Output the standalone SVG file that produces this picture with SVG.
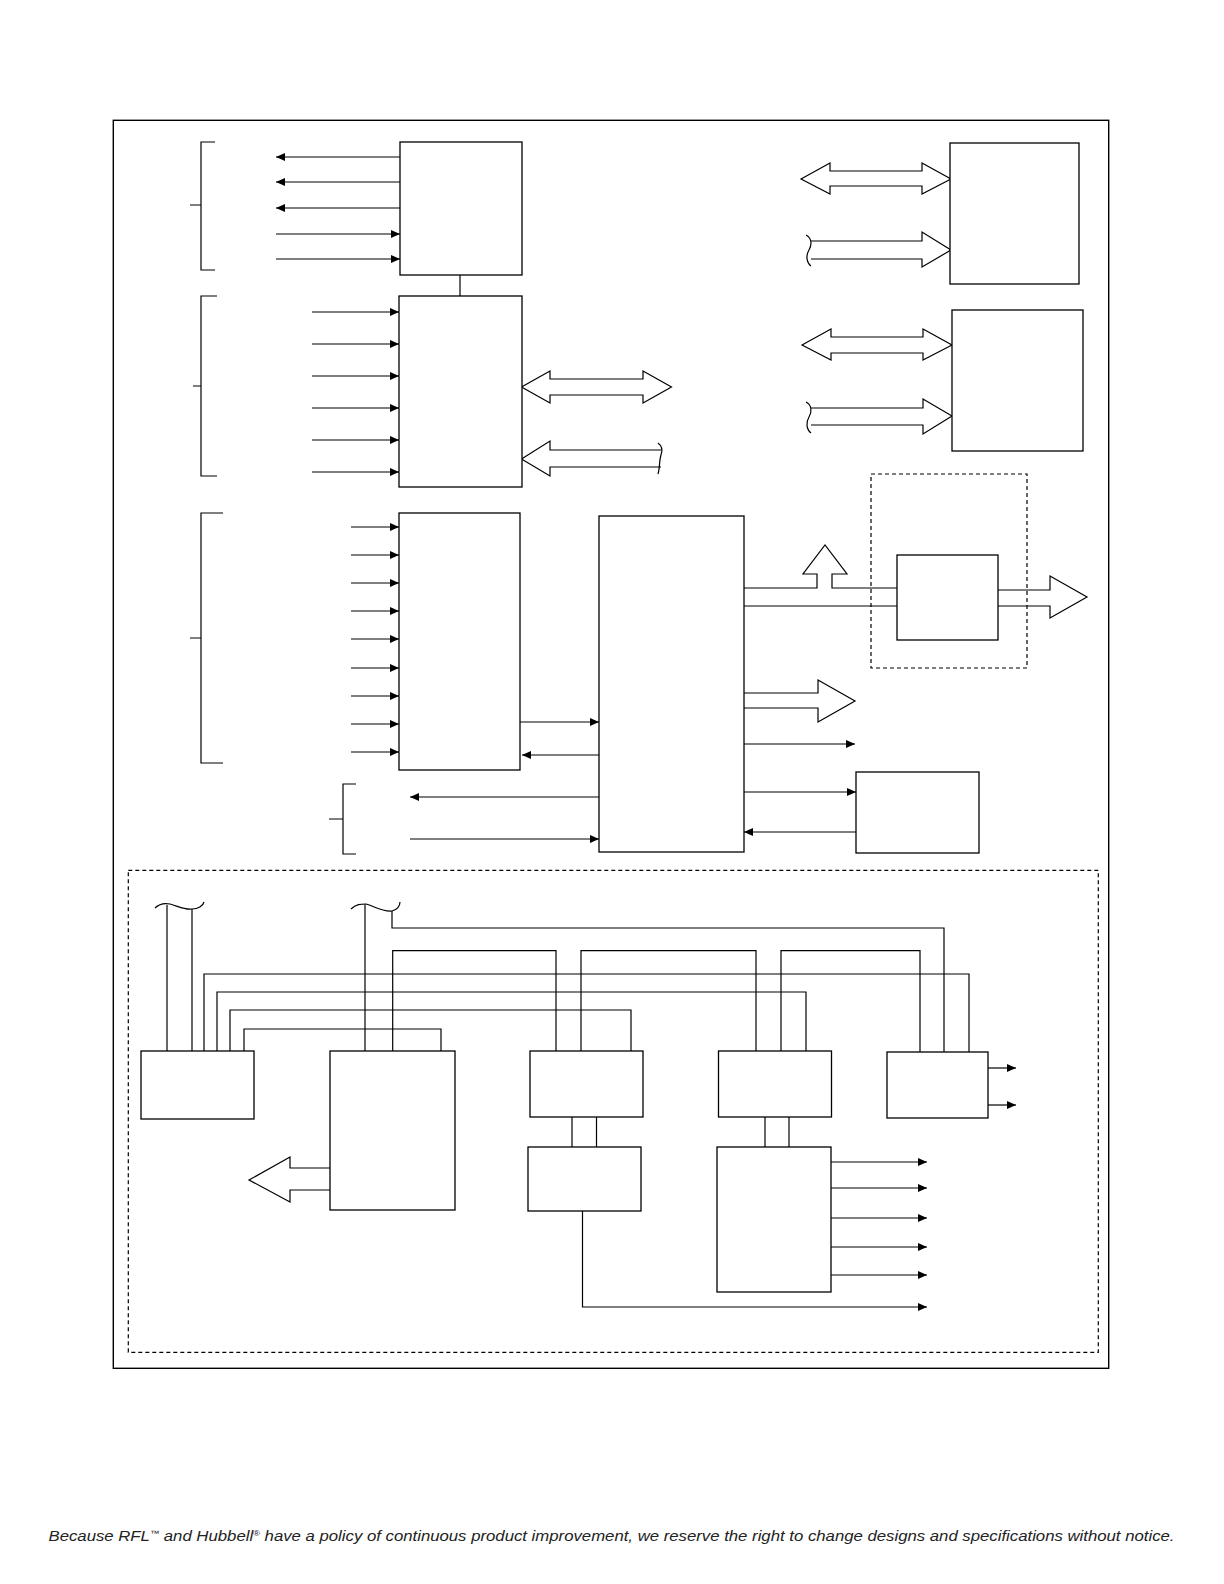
<svg xmlns="http://www.w3.org/2000/svg" width="1224" height="1584" viewBox="0 0 1224 1584">
<style>
.b{fill:#fff;stroke:#000;stroke-width:1.3}
.l{fill:none;stroke:#000;stroke-width:1.2}
.a{fill:none;stroke:#000;stroke-width:1.2;marker-end:url(#ah)}
.ba{fill:#fff;stroke:#000;stroke-width:1.2;stroke-linejoin:miter}
.d{fill:none;stroke:#000;stroke-width:1.2;stroke-dasharray:4 3}
.ft{font-family:"Liberation Sans",Arial,sans-serif;font-style:italic;font-size:14.5px;fill:#222}
</style>
<defs>
<marker id="ah" markerUnits="userSpaceOnUse" markerWidth="10" markerHeight="9" refX="9" refY="4" orient="auto">
<path d="M0,0 L9,4 L0,8 z" fill="#000"/>
</marker>
</defs>
<rect x="0" y="0" width="1224" height="1584" fill="#fff"/>
<rect id="frame" x="113.3" y="120.3" width="995.4" height="1248" class="l" style="stroke-width:1.4"/>

<g id="connectors">
<!-- box1 -->
<line x1="400" y1="157" x2="276" y2="157" class="a"/>
<line x1="400" y1="182" x2="276" y2="182" class="a"/>
<line x1="400" y1="208" x2="276" y2="208" class="a"/>
<line x1="276" y1="234" x2="400" y2="234" class="a"/>
<line x1="276" y1="259" x2="400" y2="259" class="a"/>
<path d="M215,142 H201 V270 H215 M190,205 H201" class="l"/>
<line x1="460" y1="275" x2="460" y2="296" class="l"/>
<!-- box2 -->
<line x1="312" y1="312" x2="399" y2="312" class="a"/>
<line x1="312" y1="344" x2="399" y2="344" class="a"/>
<line x1="312" y1="376" x2="399" y2="376" class="a"/>
<line x1="312" y1="408" x2="399" y2="408" class="a"/>
<line x1="312" y1="440" x2="399" y2="440" class="a"/>
<line x1="312" y1="472" x2="399" y2="472" class="a"/>
<path d="M217,296 H201 V476 H217 M193,386 H201" class="l"/>
<polygon points="521.5,387 550,371 550,379 643,379 643,371 671.5,387 643,403 643,395 550,395 550,403" class="ba"/>
<path d="M661,450 H550 V441 L521.5,459 L550,476 V467 H661" class="ba"/>
<path d="M658,443 C662,446 663,450 661,455 C659,461 660,468 658,474" class="l"/>
<!-- box L -->
<line x1="351" y1="527" x2="399" y2="527" class="a"/>
<line x1="351" y1="555" x2="399" y2="555" class="a"/>
<line x1="351" y1="583" x2="399" y2="583" class="a"/>
<line x1="351" y1="611" x2="399" y2="611" class="a"/>
<line x1="351" y1="639" x2="399" y2="639" class="a"/>
<line x1="351" y1="668" x2="399" y2="668" class="a"/>
<line x1="351" y1="696" x2="399" y2="696" class="a"/>
<line x1="351" y1="724" x2="399" y2="724" class="a"/>
<line x1="351" y1="752" x2="399" y2="752" class="a"/>
<path d="M223,513 H201 V763 H223 M190,638 H201" class="l"/>
<line x1="520" y1="722" x2="599" y2="722" class="a"/>
<line x1="599" y1="755" x2="522" y2="755" class="a"/>
<path d="M356,784 H343 V854 H356 M329,819 H343" class="l"/>
<line x1="599" y1="797" x2="410" y2="797" class="a"/>
<line x1="410" y1="839" x2="599" y2="839" class="a"/>
<!-- right top -->
<polygon points="801,179 830,163 830,171 922,171 922,163 951,179 922,194 922,186 830,186 830,194" class="ba"/>
<path d="M811,241 H922 V232 L951,250 L922,267 V259 H811" class="ba"/>
<path d="M806,235 C812,238 812,245 809,250 C806,255 806,262 811,266" class="l"/>
<polygon points="802,345 831,329 831,337 923,337 923,329 952,345 923,360 923,353 831,353 831,360" class="ba"/>
<path d="M811,408 H923 V399 L952,416 L923,434 V425 H811" class="ba"/>
<path d="M806,402 C812,405 812,412 809,417 C806,422 806,429 811,433" class="l"/>
<!-- box F outputs -->
<path d="M744,588 H817 V574 H803 L825,545 L847,574 H832 V588 H897" class="ba"/>
<line x1="744" y1="606" x2="897" y2="606" class="l"/>
<path d="M998,590 H1050 V576 L1087,597 L1050,618 V606 H998" class="ba"/>
<path d="M744,693 H818 V680 L855,701 L818,722 V708 H744" class="ba"/>
<line x1="744" y1="744" x2="855" y2="744" class="a"/>
<line x1="744" y1="792" x2="856" y2="792" class="a"/>
<line x1="856" y1="832" x2="744" y2="832" class="a"/>
<!-- lower section -->
<line x1="167" y1="1051" x2="167" y2="905" class="l"/>
<line x1="192" y1="1051" x2="192" y2="909" class="l"/>
<path d="M155,908 C160,903 165,903 170,904 C178,906 184,910 192,909 C198,909 203,906 204,902" class="l"/>
<path d="M204,1051 V974 H969 V1052" class="l"/>
<path d="M217,1051 V992 H806 V1051" class="l"/>
<path d="M230,1051 V1010 H631 V1051" class="l"/>
<path d="M244,1051 V1029 H441 V1051" class="l"/>
<line x1="365" y1="1051" x2="365" y2="905" class="l"/>
<path d="M351,909 C356,904 361,904 366,904 C374,906 382,912 392,911 C397,910 400,906 400,902" class="l"/>
<path d="M392,911 V928 H944 V1052" class="l"/>
<path d="M392.7,1051 V950.7 H556 V1051" class="l"/>
<path d="M581,1051 V950.7 H756 V1051" class="l"/>
<path d="M781,1051 V950.7 H920 V1052" class="l"/>
<line x1="988" y1="1068" x2="1016" y2="1068" class="a"/>
<line x1="988" y1="1105" x2="1016" y2="1105" class="a"/>
<line x1="572" y1="1117" x2="572" y2="1147" class="l"/>
<line x1="596.5" y1="1117" x2="596.5" y2="1147" class="l"/>
<line x1="765" y1="1117" x2="765" y2="1147" class="l"/>
<line x1="789" y1="1117" x2="789" y2="1147" class="l"/>
<line x1="831" y1="1162" x2="927" y2="1162" class="a"/>
<line x1="831" y1="1188" x2="927" y2="1188" class="a"/>
<line x1="831" y1="1218" x2="927" y2="1218" class="a"/>
<line x1="831" y1="1247" x2="927" y2="1247" class="a"/>
<line x1="831" y1="1275" x2="927" y2="1275" class="a"/>
<path d="M582.5,1211 V1307 H927" class="a"/>
<path d="M330,1168 H290 V1157 L249,1180 L290,1202 V1190 H330" class="ba"/>
</g>

<g id="box1"><rect x="400" y="142" width="122" height="133" class="b"/></g>
<g id="box2"><rect x="399" y="296" width="123" height="191" class="b"/></g>
<g id="boxL"><rect x="399" y="513" width="121" height="257" class="b"/></g>
<g id="boxF"><rect x="599" y="516" width="145" height="336" class="b"/></g>
<g id="boxA"><rect x="950" y="143" width="129" height="141" class="b"/></g>
<g id="boxB"><rect x="952" y="310" width="131" height="141" class="b"/></g>
<g id="groupE"><rect x="871" y="474" width="156" height="194" class="d"/></g>
<g id="boxH"><rect x="897" y="555" width="101" height="85" class="b"/></g>
<g id="boxK"><rect x="856" y="772" width="123" height="81" class="b"/></g>
<g id="groupLower"><rect x="128.3" y="870.3" width="970" height="482" class="d"/></g>
<g id="boxM"><rect x="141" y="1051" width="113" height="68" class="b"/></g>
<g id="boxN"><rect x="330" y="1051" width="125" height="159" class="b"/></g>
<g id="boxO"><rect x="530" y="1051" width="113" height="66" class="b"/></g>
<g id="boxP"><rect x="718.5" y="1051" width="113" height="66" class="b"/></g>
<g id="boxR"><rect x="887" y="1052" width="101" height="66" class="b"/></g>
<g id="boxS"><rect x="528" y="1147" width="113" height="64" class="b"/></g>
<g id="boxT"><rect x="717" y="1147" width="114" height="145" class="b"/></g>

<text class="ft" x="48.5" y="1540.5" textLength="1126" lengthAdjust="spacingAndGlyphs">Because RFL<tspan font-size="8" dy="-5">™</tspan><tspan dy="5"> and Hubbell</tspan><tspan font-size="8" dy="-5">®</tspan><tspan dy="5"> have a policy of continuous product improvement, we reserve the right to change designs and specifications without notice.</tspan></text>
</svg>
